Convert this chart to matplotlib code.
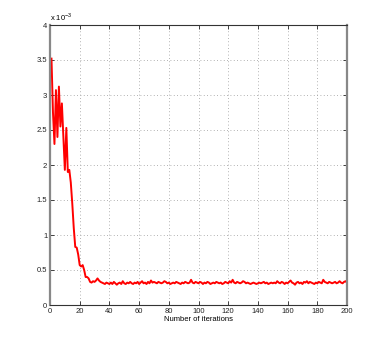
import matplotlib
matplotlib.use("Agg")
import matplotlib.pyplot as plt
import numpy as np

iterations = list(range(1, 201))
error_e3 = [
    3.52, 2.75, 2.30, 3.07, 2.40, 3.12, 2.55, 2.88, 2.40, 1.93,
    2.53, 1.90, 1.93, 1.75, 1.45, 1.10, 0.83, 0.82, 0.72, 0.57,
    0.55, 0.57, 0.50, 0.40, 0.40, 0.38, 0.33, 0.32, 0.34, 0.33,
    0.35, 0.38, 0.35, 0.33, 0.32, 0.31, 0.30, 0.32, 0.31, 0.30,
    0.32, 0.30, 0.33, 0.31, 0.29, 0.31, 0.32, 0.30, 0.34, 0.31,
    0.30, 0.32, 0.31, 0.33, 0.31, 0.30, 0.32, 0.31, 0.33, 0.30,
    0.32, 0.34, 0.31, 0.32, 0.30, 0.33, 0.31, 0.35, 0.32, 0.33,
    0.32, 0.31, 0.33, 0.32, 0.31, 0.32, 0.34, 0.33, 0.31, 0.32,
    0.30, 0.31, 0.32, 0.31, 0.33, 0.32, 0.31, 0.30, 0.32, 0.31,
    0.33, 0.32, 0.31, 0.32, 0.36, 0.32, 0.31, 0.33, 0.32, 0.31,
    0.33, 0.32, 0.30, 0.32, 0.31, 0.33, 0.32, 0.30, 0.31, 0.32,
    0.31, 0.33, 0.32, 0.31, 0.32, 0.30, 0.31, 0.33, 0.32, 0.31,
    0.34, 0.32, 0.36, 0.32, 0.31, 0.33, 0.32, 0.31, 0.32, 0.34,
    0.33, 0.31, 0.32, 0.31, 0.30, 0.31, 0.32, 0.31, 0.30, 0.31,
    0.32, 0.31, 0.32, 0.33, 0.31, 0.32, 0.30, 0.31, 0.32, 0.31,
    0.32, 0.31, 0.34, 0.32, 0.31, 0.33, 0.32, 0.30, 0.32, 0.31,
    0.33, 0.35, 0.32, 0.31, 0.29, 0.32, 0.33, 0.31, 0.32, 0.30,
    0.33, 0.32, 0.34, 0.31, 0.33, 0.32, 0.31, 0.30, 0.32, 0.31,
    0.33, 0.32, 0.31, 0.36, 0.33, 0.32, 0.31, 0.33, 0.32, 0.31,
    0.32, 0.33, 0.31, 0.32, 0.34, 0.32, 0.31, 0.33, 0.34, 0.32,
]

xticks = [0, 20, 40, 60, 80, 100, 120, 140, 160, 180, 200]
yticks = [0, 0.5, 1, 1.5, 2, 2.5, 3, 3.5, 4]
ytick_labels = ["0", "0.5", "1", "1.5", "2", "2.5", "3", "3.5", "4"]

plt.rcParams['font.family'] = ['Liberation Sans', 'DejaVu Sans']
plt.rcParams['mathtext.fontset'] = 'custom'
plt.rcParams['mathtext.rm'] = 'Liberation Sans'
fig = plt.figure(figsize=(3.83, 3.44), dpi=100)
ax = fig.add_axes([50/383, 39/344, 297/383, 280/344])

ax.plot(iterations, error_e3, color='#ff0000', linewidth=1.4)
ax.set_xlim(0, 200)
ax.set_ylim(0, 4)
ax.set_xticks(xticks)
ax.set_xticklabels([str(t) for t in xticks])
ax.set_yticks(yticks)
ax.set_yticklabels(ytick_labels)
ax.tick_params(direction='in', length=3, width=0.6, labelsize=5.5, top=True, right=True, pad=2, colors='#222222')
ax.grid(True, linestyle=(0, (1, 3)), color='#999999', linewidth=0.6)
for name in ['top', 'bottom']:
    ax.spines[name].set_linewidth(0.8)
    ax.spines[name].set_color('#333333')
for name in ['left', 'right']:
    ax.spines[name].set_linewidth(1.6)
    ax.spines[name].set_color('#888888')
ax.set_xlabel("Number of iterations", fontsize=5.5, labelpad=1)
ax.text(0.0, 1.008, r"x 10$^{-3}$", transform=ax.transAxes, fontsize=5.5, ha='left', va='bottom')

fig.savefig("out.png", dpi=100)
